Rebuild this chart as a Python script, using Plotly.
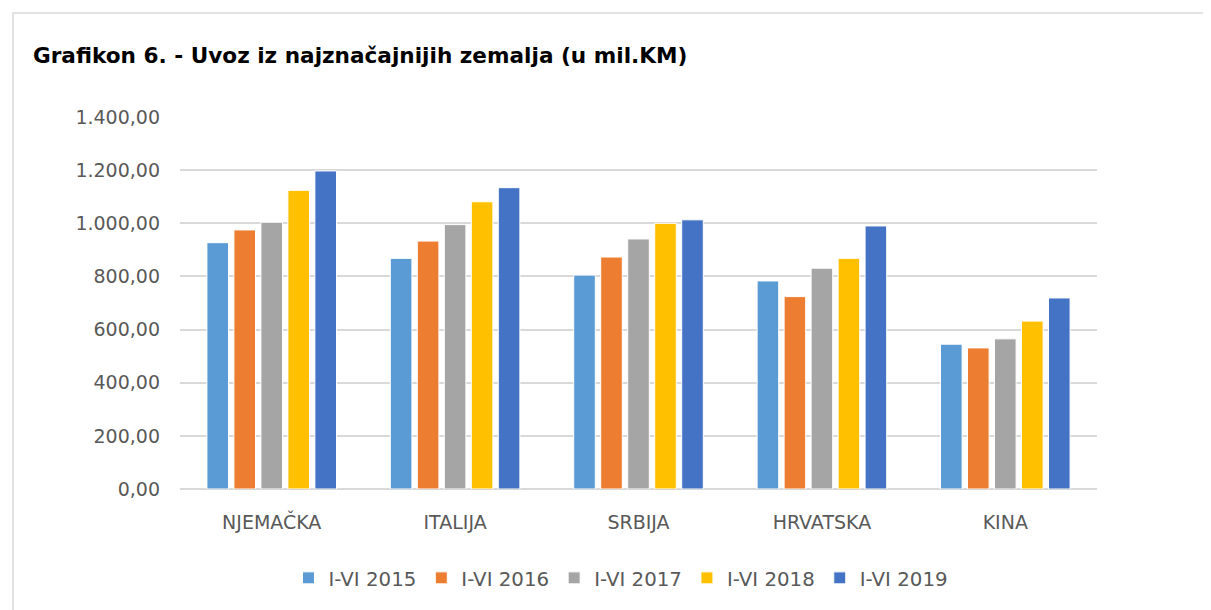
import plotly.graph_objects as go

categories = ["NJEMAČKA", "ITALIJA", "SRBIJA", "HRVATSKA", "KINA"]
series_names = ["I-VI 2015", "I-VI 2016", "I-VI 2017", "I-VI 2018", "I-VI 2019"]
v2015 = [927, 868, 805, 783, 545]
v2016 = [975, 933, 873, 724, 531]
v2017 = [1004, 995, 941, 831, 565]
v2018 = [1124, 1081, 1000, 868, 632]
v2019 = [1197, 1134, 1013, 990, 719]
series_values = [v2015, v2016, v2017, v2018, v2019]
colors = ["#5B9BD5", "#ED7D31", "#A5A5A5", "#FFC000", "#4472C4"]
ytick_vals = [0, 200, 400, 600, 800, 1000, 1200, 1400]

OFF = 8  # page body margin
W, H = 1211 - OFF, 610 - OFF
L, R, T, B = 180 - OFF, 1097 - OFF, 117 - OFF, 489 - OFF

FONT = "DejaVu Sans, Liberation Sans, Arial, sans-serif"

fig = go.Figure()
for name, vals, c in zip(series_names, series_values, colors):
    fig.add_trace(go.Bar(x=categories, y=vals, name=name, marker_color=c,
                         marker_line=dict(color="white", width=1)))

def px_x(p):
    return (p - OFF - L) / (R - L)

def px_y(p):
    return (B - (p - OFF)) / (B - T)

fig.update_layout(
    width=W, height=H,
    margin=dict(l=L, r=W - R, t=T, b=H - B, pad=0),
    paper_bgcolor="white", plot_bgcolor="white",
    separators=",.",
    barmode="group", bargap=0.264, bargroupgap=0.2,
    font=dict(family=FONT, color="#595959", size=19),
    title=dict(text="<b>Grafikon 6. - Uvoz iz najznačajnijih zemalja (u mil.KM)</b>",
               x=(33 - OFF) / W, xanchor="left", y=1 - (55 - OFF) / H, yanchor="middle",
               font=dict(size=21.6, color="#000000", family=FONT)),
    legend=dict(orientation="h", x=px_x(621), xanchor="center", y=px_y(578), yanchor="middle",
                font=dict(size=19.8, color="#595959"), traceorder="normal", itemwidth=30),
    showlegend=True,
)
fig.update_yaxes(range=[0, 1400], tickvals=ytick_vals, tickformat=",.2f",
                 showgrid=True, gridcolor="#D9D9D9", gridwidth=1.5,
                 zeroline=True, zerolinecolor="#D9D9D9", zerolinewidth=1.5,
                 showline=False, ticks="", ticklabelstandoff=19,
                 tickfont=dict(size=19, color="#595959"))
fig.update_xaxes(showline=False, ticks="", ticklabelstandoff=20,
                 tickfont=dict(size=19, color="#595959"))

fig.add_shape(type="rect", xref="paper", yref="paper",
              x0=px_x(13), x1=px_x(1240), y0=px_y(660), y1=px_y(13),
              line=dict(color="#D9D9D9", width=1.5), fillcolor="rgba(0,0,0,0)", layer="below")

fig.write_html("out.html")
